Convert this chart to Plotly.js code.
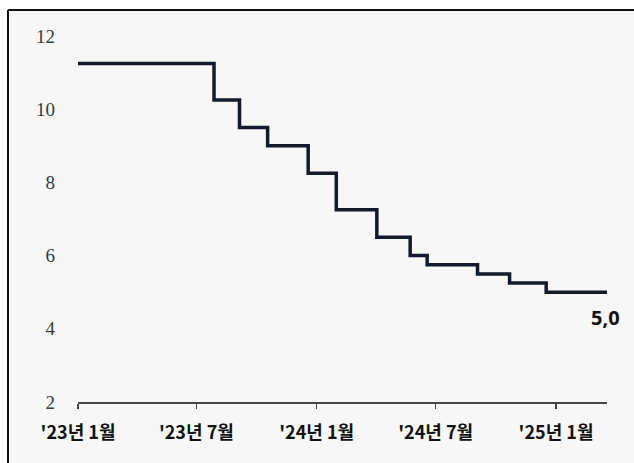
<!DOCTYPE html>
<html>
<head>
<meta charset="utf-8">
<script src="https://cdn.plot.ly/plotly-3.0.1.min.js"></script>
<style>
  html, body { margin: 0; padding: 0; background: #ffffff; }
  #chart { width: 634px; height: 463px; }
</style>
</head>
<body>
<div id="chart"></div>
<script>
// Policy rate step dates and values (%)
const dates = ['2023-01-01', '2023-07-28', '2023-09-05', '2023-10-18', '2023-12-19',
               '2024-01-31', '2024-04-02', '2024-05-23', '2024-06-18', '2024-09-03',
               '2024-10-22', '2024-12-17', '2025-03-20'];
const rates = [11.25, 10.25, 9.5, 9.0, 8.25, 7.25, 6.5, 6.0, 5.75, 5.5, 5.25, 5.0, 5.0];

const tickDates = ['2023-01-01', '2023-07-01', '2024-01-01', '2024-07-01', '2025-01-01'];
const tickLabels = ["'23년 1월", "'23년 7월", "'24년 1월", "'24년 7월", "'25년 1월"];
const yTicks = [2, 4, 6, 8, 10, 12];
const lastLabel = '5,0';

const trace = {
  x: dates,
  y: rates,
  type: 'scatter',
  mode: 'lines',
  line: { shape: 'hv', color: '#121a2c', width: 3.5 },
  hoverinfo: 'skip'
};

const plotL = 78, plotR = 607, plotT = 36, plotB = 402, W = 634, H = 463;
const pw = plotR - plotL, ph = plotB - plotT;
const px = v => (v - plotL) / pw;
const py = v => (plotB - v) / ph;

const layout = {
  width: W,
  height: H,
  margin: { l: plotL, r: W - plotR, t: plotT, b: H - plotB, pad: 0 },
  paper_bgcolor: '#ffffff',
  plot_bgcolor: 'rgba(0,0,0,0)',
  showlegend: false,
  xaxis: {
    type: 'date',
    range: [dates[0], dates[dates.length - 1]],
    tickvals: tickDates,
    ticktext: tickLabels,
    showgrid: false,
    zeroline: false,
    showline: true,
    linecolor: '#444444',
    linewidth: 1.5,
    ticks: 'outside',
    ticklen: 5,
    tickwidth: 1.5,
    tickcolor: '#444444',
    ticklabelstandoff: 9,
    tickfont: { family: '"Noto Sans CJK KR", "Noto Sans", sans-serif', size: 18, color: '#111111', weight: 'bold' },
    fixedrange: true
  },
  yaxis: {
    range: [2, 12],
    tickvals: yTicks,
    showgrid: false,
    zeroline: false,
    showline: false,
    ticks: '',
    ticklabelstandoff: 22,
    tickfont: { family: '"Liberation Serif", "DejaVu Serif", serif', size: 19, color: '#3a3a3a' },
    fixedrange: true
  },
  shapes: [
    { type: 'rect', xref: 'paper', yref: 'paper', layer: 'below',
      x0: px(8), x1: px(W + 5), y0: py(H + 5), y1: py(10),
      fillcolor: '#f7f7f7', line: { width: 0 } },
    { type: 'line', xref: 'paper', yref: 'paper',
      x0: px(8), x1: px(W + 5), y0: py(10), y1: py(10),
      line: { color: '#111111', width: 2 } },
    { type: 'line', xref: 'paper', yref: 'paper',
      x0: px(8), x1: px(8), y0: py(H + 5), y1: py(10),
      line: { color: '#111111', width: 2 } }
  ],
  annotations: [
    { x: dates[dates.length - 1], y: rates[rates.length - 1], xref: 'x', yref: 'y',
      text: lastLabel, showarrow: false, xanchor: 'center', yanchor: 'middle',
      xshift: -2, yshift: -25,
      font: { family: '"Noto Sans", "DejaVu Sans", sans-serif', size: 20, color: '#111111', weight: 'bold' } }
  ]
};

Plotly.newPlot('chart', [trace], layout, { displayModeBar: false, staticPlot: true });
</script>
</body>
</html>
